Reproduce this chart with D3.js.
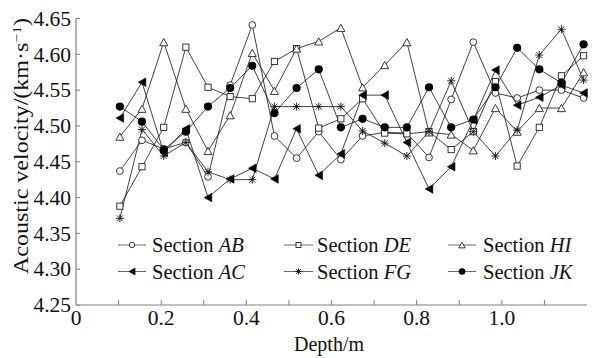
<!DOCTYPE html>
<html><head><meta charset="utf-8">
<script src="https://cdn.jsdelivr.net/npm/d3@7"></script>
<style>body{margin:0;background:#fff}svg{display:block}text{font-family:"Liberation Serif","Times New Roman",serif;fill:#111}</style>
</head><body><svg id="c" width="602" height="358"></svg>
<script>
const depths = [0.103,0.155,0.206,0.258,0.310,0.362,0.414,0.466,0.518,0.570,0.622,0.673,0.725,0.777,0.829,0.881,0.933,0.985,1.036,1.088,1.140,1.192];
const sectionAB = [4.437,4.480,4.468,4.477,4.429,4.557,4.641,4.486,4.455,4.492,4.453,4.486,4.491,4.490,4.456,4.537,4.617,4.546,4.539,4.550,4.550,4.539];
const sectionDE = [4.388,4.443,4.498,4.610,4.554,4.541,4.538,4.590,4.608,4.497,4.510,4.538,4.490,4.489,4.492,4.467,4.492,4.562,4.444,4.498,4.570,4.598];
const sectionHI = [4.485,4.524,4.617,4.524,4.465,4.515,4.602,4.549,4.608,4.618,4.637,4.554,4.585,4.617,4.491,4.488,4.466,4.525,4.492,4.525,4.525,4.575];
const sectionAC = [4.511,4.561,4.463,4.496,4.400,4.426,4.441,4.426,4.496,4.431,4.461,4.543,4.543,4.477,4.412,4.443,4.508,4.578,4.529,4.540,4.557,4.546];
const sectionFG = [4.371,4.495,4.458,4.477,4.436,4.425,4.425,4.527,4.527,4.527,4.527,4.493,4.476,4.458,4.492,4.563,4.492,4.458,4.494,4.599,4.635,4.564];
const sectionJK = [4.527,4.506,4.467,4.492,4.527,4.553,4.584,4.518,4.553,4.579,4.498,4.510,4.498,4.498,4.554,4.498,4.509,4.554,4.609,4.579,4.560,4.614];
const seriesNames = ["AB","DE","HI","AC","FG","JK"];
const markerTypes = ["circle","square","triangle","leftTri","asterisk","dot"];
const xTickLabels = [0,0.2,0.4,0.6,0.8,1.0];
const yTickLabels = [4.25,4.30,4.35,4.40,4.45,4.50,4.55,4.60,4.65];

const seriesData = [sectionAB,sectionDE,sectionHI,sectionAC,sectionFG,sectionJK];
const svg = d3.select("#c");
const x = d3.scaleLinear().domain([0,1.2]).range([76,587]);
const y = d3.scaleLinear().domain([4.25,4.65]).range([305,18.5]);
const axisCol = "#808080";

const g = svg.append("g");
g.append("line").attr("x1",x(0)).attr("x2",x(1.2)).attr("y1",y(4.25)).attr("y2",y(4.25)).attr("stroke",axisCol).attr("stroke-width",1.2);
g.append("line").attr("x1",x(0)).attr("x2",x(0)).attr("y1",y(4.25)).attr("y2",y(4.65)).attr("stroke",axisCol).attr("stroke-width",1.2);
const xMinor = d3.range(1,12).map(d=>d/10);
xMinor.forEach(v=>{
  g.append("line").attr("x1",x(v)).attr("x2",x(v)).attr("y1",y(4.25)).attr("y2",y(4.25)-5).attr("stroke",axisCol).attr("stroke-width",1);
});
yTickLabels.forEach(v=>{
  g.append("line").attr("x1",x(0)).attr("x2",x(0)+4).attr("y1",y(v)).attr("y2",y(v)).attr("stroke",axisCol).attr("stroke-width",1);
  g.append("text").attr("x",x(0)-5).attr("y",y(v)).attr("dy","0.34em").attr("text-anchor","end").attr("font-size",21.5).text(v.toFixed(2));
});
xTickLabels.forEach(v=>{
  g.append("text").attr("x",x(v)).attr("y",325).attr("text-anchor","middle").attr("font-size",21.5).text(v===0?"0":v.toFixed(1));
});
svg.append("text").attr("x",329).attr("y",351).attr("text-anchor","middle").attr("font-size",20).text("Depth/m");
const yt = svg.append("text").attr("transform","translate(28,146) rotate(-90)").attr("text-anchor","middle").attr("font-size",20)
  .attr("textLength",256).attr("lengthAdjust","spacingAndGlyphs");
yt.append("tspan").text("Acoustic velocity/(km·s");
yt.append("tspan").attr("dy",-7).attr("font-size",13).text("−1");
yt.append("tspan").attr("dy",7).text(")");

function drawMarker(sel, type, cx, cy, s){
  s = s||1;
  const st = "#222";
  if(type==="circle"){
    sel.append("circle").attr("cx",cx).attr("cy",cy).attr("r",3.4*s).attr("fill","#fff").attr("stroke",st).attr("stroke-width",0.9);
  } else if(type==="square"){
    const h=3.1*s;
    sel.append("rect").attr("x",cx-h).attr("y",cy-h).attr("width",2*h).attr("height",2*h).attr("fill","#fff").attr("stroke",st).attr("stroke-width",0.9);
  } else if(type==="triangle"){
    const w=4*s, hh=3.6*s;
    sel.append("path").attr("d",`M${cx},${cy-hh}L${cx+w},${cy+hh}L${cx-w},${cy+hh}Z`).attr("fill","#fff").attr("stroke",st).attr("stroke-width",0.9);
  } else if(type==="leftTri"){
    const w=3.8*s, hh=4.3*s;
    sel.append("path").attr("d",`M${cx-w},${cy}L${cx+w},${cy-hh}L${cx+w},${cy+hh}Z`).attr("fill","#000").attr("stroke","#000").attr("stroke-width",0.6);
  } else if(type==="asterisk"){
    const r=4*s;
    let p=`M${cx},${cy-r}L${cx},${cy+r}M${cx-r},${cy}L${cx+r},${cy}`;
    const d=r*0.75;
    p+=`M${cx-d},${cy-d}L${cx+d},${cy+d}M${cx-d},${cy+d}L${cx+d},${cy-d}`;
    sel.append("path").attr("d",p).attr("fill","none").attr("stroke","#111").attr("stroke-width",0.9);
  } else if(type==="dot"){
    sel.append("circle").attr("cx",cx).attr("cy",cy).attr("r",4.1*s).attr("fill","#000");
  }
}

const line = d3.line().x((d,i)=>x(depths[i])).y(d=>y(d));
seriesData.forEach((vals)=>{
  svg.append("path").attr("d",line(vals)).attr("fill","none").attr("stroke","#111").attr("stroke-width",0.8);
});
seriesData.forEach((vals,k)=>{
  const mg = svg.append("g");
  vals.forEach((v,i)=>drawMarker(mg, markerTypes[k], x(depths[i]), y(v)));
});

const colX = [[118,146,152],[284,313,317],[448,476,483]];
const rowY = [245,271.5];
seriesNames.forEach((n,k)=>{
  const c = colX[k%3], ry = rowY[Math.floor(k/3)];
  const lg = svg.append("g");
  lg.append("line").attr("x1",c[0]).attr("x2",c[1]).attr("y1",ry).attr("y2",ry).attr("stroke","#444").attr("stroke-width",0.8);
  drawMarker(lg, markerTypes[k], (c[0]+c[1])/2, ry, 0.8);
  const t = lg.append("text").attr("x",c[2]).attr("y",ry+7).attr("font-size",20.5);
  t.append("tspan").text("Section ");
  t.append("tspan").attr("font-style","italic").text(n);
});
</script></body></html>
